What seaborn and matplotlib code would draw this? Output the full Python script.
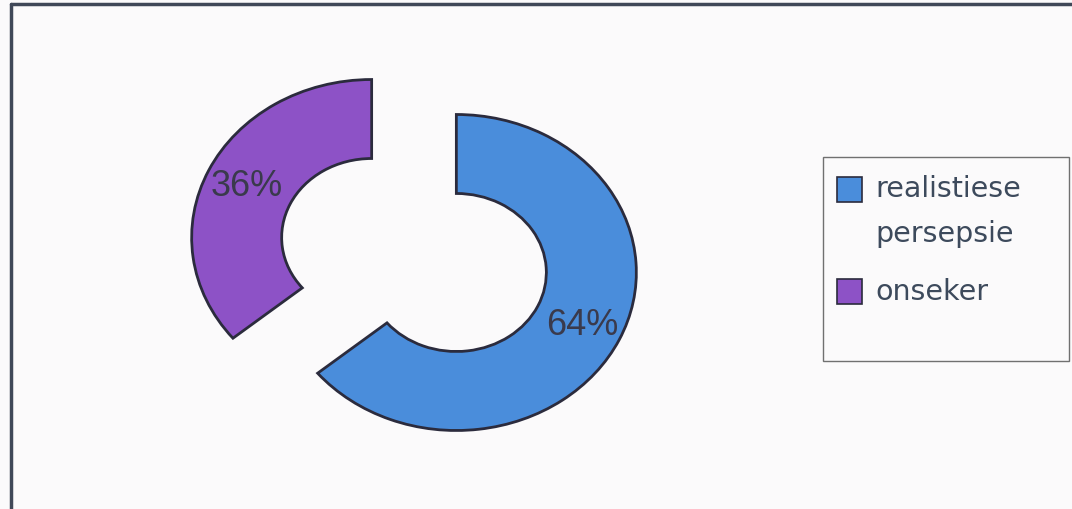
import matplotlib.pyplot as plt
import seaborn as sns
from matplotlib.patches import Rectangle
from matplotlib.lines import Line2D

# veriler
labels = ['realistiese\npersepsie', 'onseker']
values = [64, 36]
colors = ['#4a8ddb', '#8d52c6']

sns.set_style('white')
plt.rcParams['font.family'] = ['Liberation Sans', 'DejaVu Sans']

W, H = 1072, 510
fig = plt.figure(figsize=(W / 100, H / 100), dpi=100)
fig.patch.set_facecolor('#fbfafb')
ax = fig.add_axes([0, 0, 1, 1])
ax.set_facecolor('none')

# donut (patlatilmis)
cx, cy = 414, 256   # piksel merkez
sx, sy = 180, 158   # yaricap piksel (yatay/dikey)
wedges, texts, autotexts = ax.pie(
    values, colors=colors, startangle=90, counterclock=False,
    explode=[0.26, 0.26], autopct='%1.0f%%', pctdistance=0.77,
    wedgeprops=dict(width=0.5, edgecolor='#2b2b3d', linewidth=2),
    textprops=dict(fontsize=26, color='#3a3a4c', family='Liberation Sans'))
ax.set_aspect('auto')
ax.set_xlim(-cx / sx, (W - cx) / sx)
ax.set_ylim((cy - H) / sy, cy / sy)
ax.axis('off')

# cerceve (ust ve sol)
fig.add_artist(Line2D([11 / W, 1], [1 - 5 / H, 1 - 5 / H], color='#404858', lw=2.5,
                      transform=fig.transFigure))
fig.add_artist(Line2D([11 / W, 11 / W], [0, 1 - 5 / H], color='#404858', lw=2.5,
                      transform=fig.transFigure))

# lejant kutusu (elle)
fig.add_artist(Rectangle((823 / W, 1 - 362 / H), (1069 - 823) / W, (362 - 158) / H,
                         transform=fig.transFigure, facecolor='#fbfafb',
                         edgecolor='#707070', lw=1, zorder=-1))
sq_top = [178, 280]
txt_base = [197, 300]
for i, (lab, col) in enumerate(zip(labels, colors)):
    fig.add_artist(Rectangle((837 / W, 1 - (sq_top[i] + 25) / H), 25 / W, 25 / H,
                             transform=fig.transFigure, facecolor=col,
                             edgecolor='#2b2b3d', lw=1.2))
    for j, line in enumerate(lab.split('\n')):
        fig.text(875 / W, 1 - (txt_base[i] + 45 * j) / H, line, ha='left', va='baseline',
                 family='DejaVu Sans', fontsize=20.5, color='#3d4a5c')

fig.savefig('out.png', dpi=100, facecolor=fig.get_facecolor())
